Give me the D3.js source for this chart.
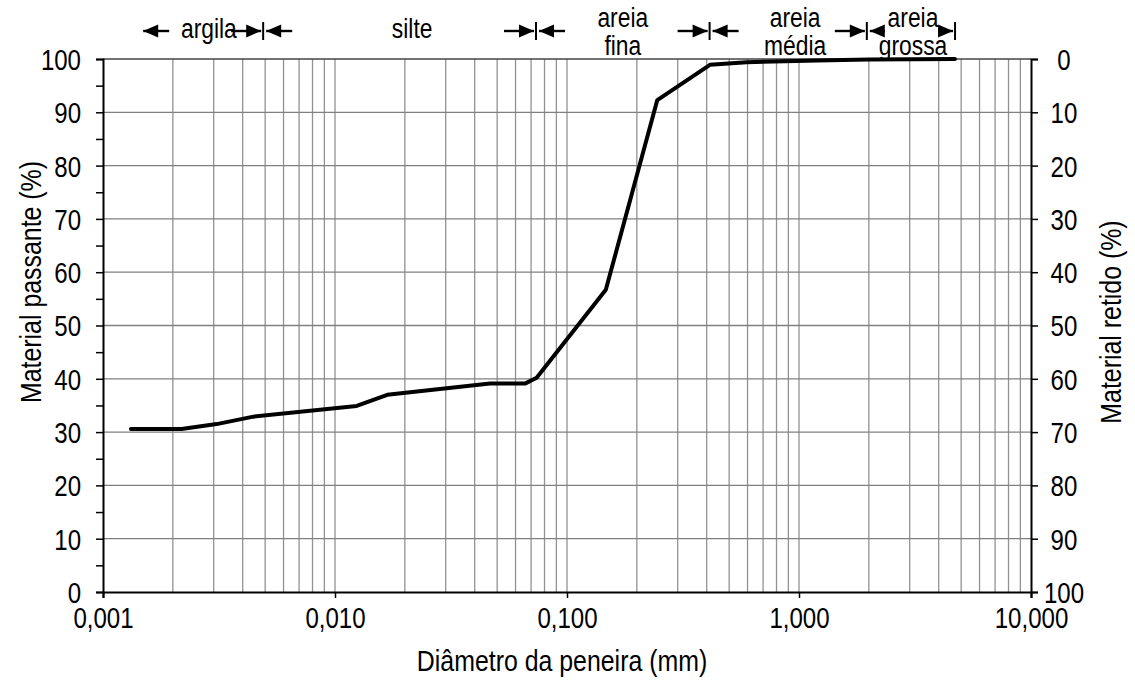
<!DOCTYPE html>
<html>
<head>
<meta charset="utf-8">
<script src="https://cdn.jsdelivr.net/npm/d3@7"></script>
<style>
  html, body { margin: 0; padding: 0; background: #fff; }
  svg { display: block; font-family: "Liberation Sans", Arial, sans-serif; }
</style>
</head>
<body>
<svg id="chart" width="1135" height="682"></svg>
<script>
// ---- data ----
const diameters = [0.00132, 0.00218, 0.00309, 0.00445, 0.0124, 0.0168, 0.0466, 0.0659, 0.074, 0.147, 0.245, 0.413, 0.595, 1.2, 2.0, 4.7];
const passing   = [30.6, 30.6, 31.5, 32.9, 34.9, 37.0, 39.1, 39.1, 40.2, 56.7, 92.3, 98.9, 99.4, 99.7, 99.9, 100];
const xTickValues = [0.001, 0.01, 0.1, 1, 10];
const xTickLabels = ["0,001", "0,010", "0,100", "1,000", "10,000"];
const yTickValues = [0, 10, 20, 30, 40, 50, 60, 70, 80, 90, 100];
const classBounds = [0.005, 0.075, 0.42, 2.0, 4.8];
const classNames = [["argila"], ["silte"], ["areia", "fina"], ["areia", "média"], ["areia", "grossa"]];
const classLabelPos = [0.00286, 0.0215, 0.174, 0.962, 3.1];

// ---- layout ----
const svg = d3.select("#chart");
const L = 103, R = 1031, T = 59, B = 592;
const x = d3.scaleLog().domain([0.001, 10]).range([L, R]);
const y = d3.scaleLinear().domain([0, 100]).range([B, T]);
const yr = d3.scaleLinear().domain([100, 0]).range([B, T]);
const FONT = '"Liberation Sans", Arial, sans-serif';
const SX = 0.83; // horizontal compression of glyphs (tall, narrow type as in the reference)

// vertical grid
const vgrid = [];
for (let d = -3; d <= 0; d++) for (let k = 1; k <= 9; k++) vgrid.push(k * Math.pow(10, d));
svg.append("g").selectAll("line").data(vgrid.filter(v => v > 0.0011)).join("line")
  .attr("x1", d => x(d)).attr("x2", d => x(d)).attr("y1", T).attr("y2", B)
  .attr("stroke", "#929292").attr("stroke-width", 1.3);

// horizontal grid
svg.append("g").selectAll("line").data(yTickValues.filter(v => v > 0 && v < 100)).join("line")
  .attr("x1", L).attr("x2", R).attr("y1", d => y(d)).attr("y2", d => y(d))
  .attr("stroke", "#808080").attr("stroke-width", 1.3);

// top border
svg.append("line").attr("x1", L).attr("x2", R).attr("y1", T).attr("y2", T)
  .attr("stroke", "#444").attr("stroke-width", 1.6);

// left axis
const yAxisL = d3.axisLeft(y).tickValues(d3.range(0, 101, 5)).tickSize(7).tickFormat(d => d % 10 === 0 ? d : "");
const gL = svg.append("g").attr("transform", `translate(${L},0)`).call(yAxisL);
gL.select(".domain").attr("stroke", "#000").attr("stroke-width", 2);
gL.selectAll(".tick line").attr("stroke", "#000").attr("stroke-width", 1.5);
gL.selectAll(".tick text").attr("font-size", 29).attr("x", -22 / SX).attr("dy", "0.36em")
  .attr("transform", `scale(${SX},1)`).attr("fill", "#000").attr("font-family", FONT);

// right axis
const yAxisR = d3.axisRight(yr).tickValues(yTickValues).tickSize(7);
const gR = svg.append("g").attr("transform", `translate(${R},0)`).call(yAxisR);
gR.select(".domain").attr("stroke", "#000").attr("stroke-width", 2);
gR.selectAll(".tick line").attr("stroke", "#000").attr("stroke-width", 1.5);
gR.selectAll(".tick text").attr("font-size", 29).attr("x", 33 / SX).attr("dy", "0.36em")
  .attr("text-anchor", "middle").attr("transform", `scale(${SX},1)`)
  .attr("fill", "#000").attr("font-family", FONT);

// bottom axis
const xAxis = d3.axisBottom(x).tickValues(xTickValues).tickSize(6)
  .tickFormat((d, i) => xTickLabels[i]);
const gB = svg.append("g").attr("transform", `translate(0,${B})`).call(xAxis);
gB.select(".domain").attr("stroke", "#000").attr("stroke-width", 2.2);
gB.selectAll(".tick line").attr("stroke", "#000").attr("stroke-width", 1.5);
gB.selectAll(".tick text").attr("font-size", 29).attr("y", 15).attr("transform", `scale(${SX},1)`)
  .attr("fill", "#000").attr("font-family", FONT);

// curve
const pts = diameters.map((d, i) => [d, passing[i]]);
svg.append("path").datum(pts)
  .attr("d", d3.line().x(d => x(d[0])).y(d => y(d[1])))
  .attr("fill", "none").attr("stroke", "#000").attr("stroke-width", 4)
  .attr("stroke-linejoin", "round").attr("stroke-linecap", "round");

// axis titles
svg.append("text").attr("transform", `translate(562,671) scale(${SX},1)`).attr("text-anchor", "middle")
  .attr("font-size", 30).text("Diâmetro da peneira (mm)");
svg.append("text").attr("transform", `translate(41,282) rotate(-90) scale(${SX},1)`).attr("text-anchor", "middle")
  .attr("font-size", 30).text("Material passante (%)");
svg.append("text").attr("transform", `translate(1121,322) rotate(-90) scale(${SX},1)`).attr("text-anchor", "middle")
  .attr("font-size", 30).text("Material retido (%)");

// soil class annotations
const ay = 31;
const ann = svg.append("g");
function arrowHead(xTip, dir) { // dir: +1 points right, -1 points left
  ann.append("path")
    .attr("d", `M${xTip},${ay} L${xTip - dir * 15},${ay - 6.5} L${xTip - dir * 15},${ay + 6.5} Z`)
    .attr("fill", "#000");
}
function shaft(x1, x2) {
  ann.append("line").attr("x1", x1).attr("x2", x2).attr("y1", ay).attr("y2", ay)
    .attr("stroke", "#000").attr("stroke-width", 2.4);
}
// leading left arrow for argila
const xStart = x(classBounds[0]) - 122;
shaft(xStart, xStart + 26); arrowHead(xStart, -1);
classBounds.forEach((b, i) => {
  const bx = x(b) - 2;
  const last = i === classBounds.length - 1;
  const rightLen = last ? 15 : 30;
  const leftLen = i === classBounds.length - 2 ? 15 : 26;
  shaft(bx - 2 - rightLen, bx - 2); arrowHead(bx - 2, 1);
  ann.append("line").attr("x1", bx).attr("x2", bx).attr("y1", ay - 9).attr("y2", ay + 9)
    .attr("stroke", "#000").attr("stroke-width", 2);
  if (!last) { shaft(bx + 3, bx + 3 + leftLen); arrowHead(bx + 3, -1); }
});
classNames.forEach((lines, i) => {
  const cx = x(classLabelPos[i]) / SX;
  const t = ann.append("text").attr("text-anchor", "middle").attr("font-size", 27.5)
    .attr("transform", `scale(${SX},1)`).attr("x", cx);
  if (lines.length === 1) {
    t.attr("y", 38).text(lines[0]);
  } else {
    t.append("tspan").attr("x", cx).attr("y", 27).text(lines[0]);
    t.append("tspan").attr("x", cx).attr("y", 55).text(lines[1]);
  }
});
</script>
</body>
</html>
